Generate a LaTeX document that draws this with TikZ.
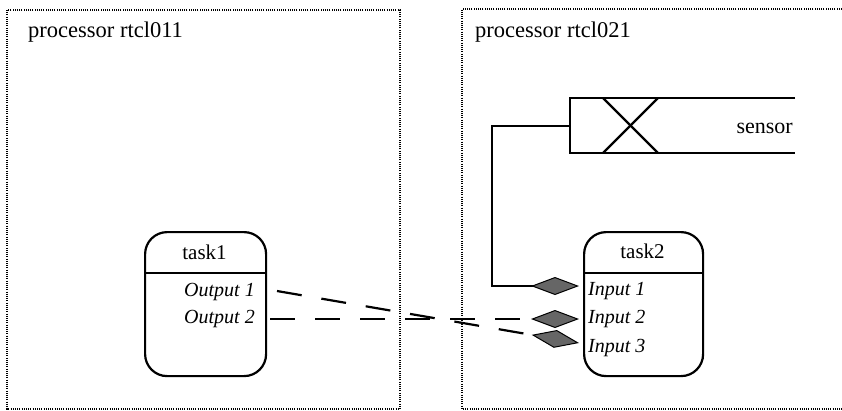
\documentclass[tikz,border=0pt]{standalone}
\usepackage{fontspec}
\setmainfont{Liberation Serif}
\usetikzlibrary{arrows.meta}
\begin{document}
\begin{tikzpicture}[x=1pt,y=-1pt,
  procbox/.style={line width=1.1pt, dash pattern=on 1pt off 1.2pt, black},
  thick line/.style={line width=2.2pt},
  lbl/.style={font=\fontsize{21}{24}\selectfont, inner sep=0pt},
  plbl/.style={font=\fontsize{22.5}{26}\selectfont, inner sep=0pt},
  port/.style={font=\fontsize{20}{24}\selectfont\itshape, inner sep=0pt},
  taskbox/.style={draw, line width=2.2pt, rounded corners=22pt},
  flow/.style={line width=2.2pt, dash pattern=on 25pt off 20pt},
  dtip/.style={-{Diamond[length=48pt,width=18pt,fill=black!60,line width=1pt]}}
]
\useasboundingbox (0,0) rectangle (842,410);
% processor boxes
\draw[procbox] (7,10) rectangle (400,409);
\draw[procbox] (842,9) -- (462,9) -- (462,409) -- (842,409);
\node[plbl, anchor=base west] (p1) at (28,37) {processor rtcl011};
\node[plbl, anchor=base west] (p2) at (475,37) {processor rtcl021};
% sensor
\draw[thick line] (795,98) -- (570,98) -- (570,153) -- (795,153);
\draw[thick line] (603,98) -- (658,153);
\draw[thick line] (658,98) -- (603,153);
\node[plbl, anchor=base east, font=\fontsize{22}{26}\selectfont] (sensor) at (793,133) {sensor};
\coordinate (sensw) at (570,126);
% task1
\node[taskbox, minimum width=121pt, minimum height=144pt, anchor=north west] (task1) at (144,231) {};
\draw[line width=2.2pt] (144,273) -- (265,273);
\node[lbl, anchor=base] (t1) at (204.5,259) {task1};
\node[port, anchor=base east] (o1) at (255,296) {Output 1};
\node[port, anchor=base east] (o2) at (255,323) {Output 2};
\coordinate (o1p) at (277,291);
\coordinate (o2p) at (270,319);
% task2
\node[taskbox, minimum width=119pt, minimum height=144pt, anchor=north west] (task2) at (583,231) {};
\draw[line width=2.2pt] (583,273) -- (702,273);
\node[lbl, anchor=base] (t2) at (642.5,258) {task2};
\node[port, anchor=base west] (i1) at (588,295) {Input 1};
\node[port, anchor=base west] (i2) at (588,323) {Input 2};
\node[port, anchor=base west] (i3) at (588,352) {Input 3};
\coordinate (i1p) at (579,286);
\coordinate (i2p) at (579,319);
\coordinate (i3p) at (579,343);
% connectors
\draw[line width=2.2pt, dtip] (sensw) -- (492,126) |- (i1p);
\draw[flow, dtip] (o2p) -- (i2p);
\draw[flow, dtip] (o1p) -- (i3p);
\end{tikzpicture}
\end{document}
